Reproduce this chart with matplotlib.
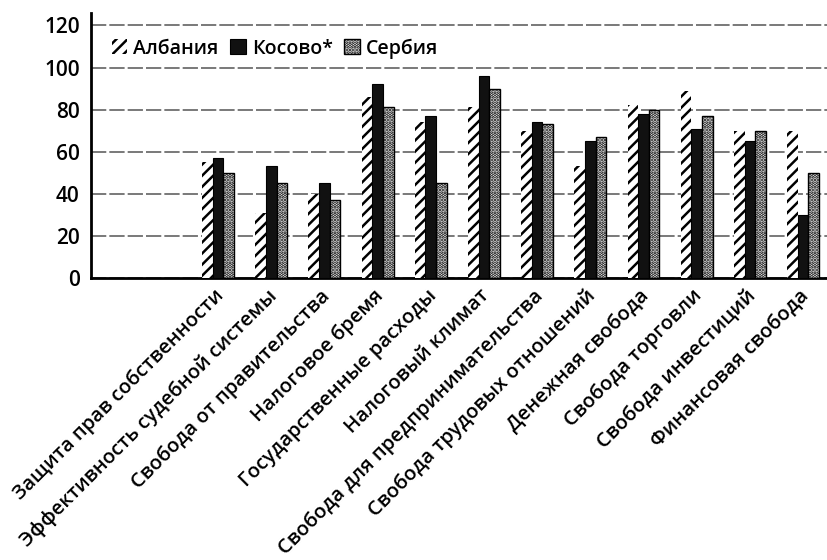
import numpy as np
import matplotlib
matplotlib.use("Agg")
import matplotlib.pyplot as plt

plt.rcParams['font.family'] = ['Open Sans', 'DejaVu Sans']
plt.rcParams['hatch.linewidth'] = 1.8

# показатели индекса экономической свободы
categories = [
    "Защита прав собственности",
    "Эффективность судебной системы",
    "Свобода от правительства",
    "Налоговое бремя",
    "Государственные расходы",
    "Налоговый климат",
    "Свобода для предпринимательства",
    "Свобода трудовых отношений",
    "Денежная свобода",
    "Свобода торговли",
    "Свобода инвестиций",
    "Финансовая свобода",
]
albania = [55, 31, 40, 86, 74, 81, 70, 53, 82, 89, 70, 70]
kosovo = [57, 53, 45, 92, 77, 96, 74, 65, 78, 71, 65, 30]
serbia = [50, 45, 37, 81, 45, 90, 73, 67, 80, 77, 70, 50]
series_names = ["Албания", "Косово*", "Сербия"]
yticks = [0, 20, 40, 60, 80, 100, 120]

fig = plt.figure(figsize=(8.27, 5.6), dpi=100)
ax = fig.add_axes([0.110, 0.504, 0.890, 0.473])

x = np.arange(len(categories))
w = 0.2
ax.bar(x - w, albania, w, color='white', edgecolor='black', linewidth=0,
       hatch='///', label=series_names[0], zorder=3)
ax.bar(x, kosovo, w, color='#111111', edgecolor='black', linewidth=0.8,
       label=series_names[1], zorder=3)
ax.bar(x + w, serbia, w, color='white', edgecolor='black', linewidth=1.0,
       hatch='.....', label=series_names[2], zorder=3)

ax.set_xlim(-2.39, 11.45)
ax.set_ylim(0, 126)
ax.set_yticks(yticks)
ax.set_yticklabels([str(v) for v in yticks], fontsize=15, fontweight='semibold')
ax.tick_params(axis='y', length=0, pad=8)
ax.tick_params(axis='x', length=0, pad=11)
ax.set_xticks(x + 0.05)
ax.set_xticklabels(categories, rotation=45, ha='right', va='center',
                   rotation_mode='anchor', fontsize=14.5)
for lbl in ax.get_xticklabels():
    lbl.set_fontweight('semibold')

ax.grid(axis='y', color='#555555', linestyle=(0, (10, 2)), linewidth=1.1, zorder=0)
ax.set_axisbelow(True)
for s in ['top', 'right']:
    ax.spines[s].set_visible(False)
ax.spines['left'].set_linewidth(2)
ax.spines['bottom'].set_linewidth(2)

leg = ax.legend(loc='upper left', bbox_to_anchor=(0.01, 0.955), ncol=3, frameon=False,
                fontsize=14, handlelength=0.8, handleheight=0.8, handletextpad=0.3,
                columnspacing=0.6, borderaxespad=0.3)
for t in leg.get_texts():
    t.set_fontweight('semibold')

fig.savefig("out.png", dpi=100)
